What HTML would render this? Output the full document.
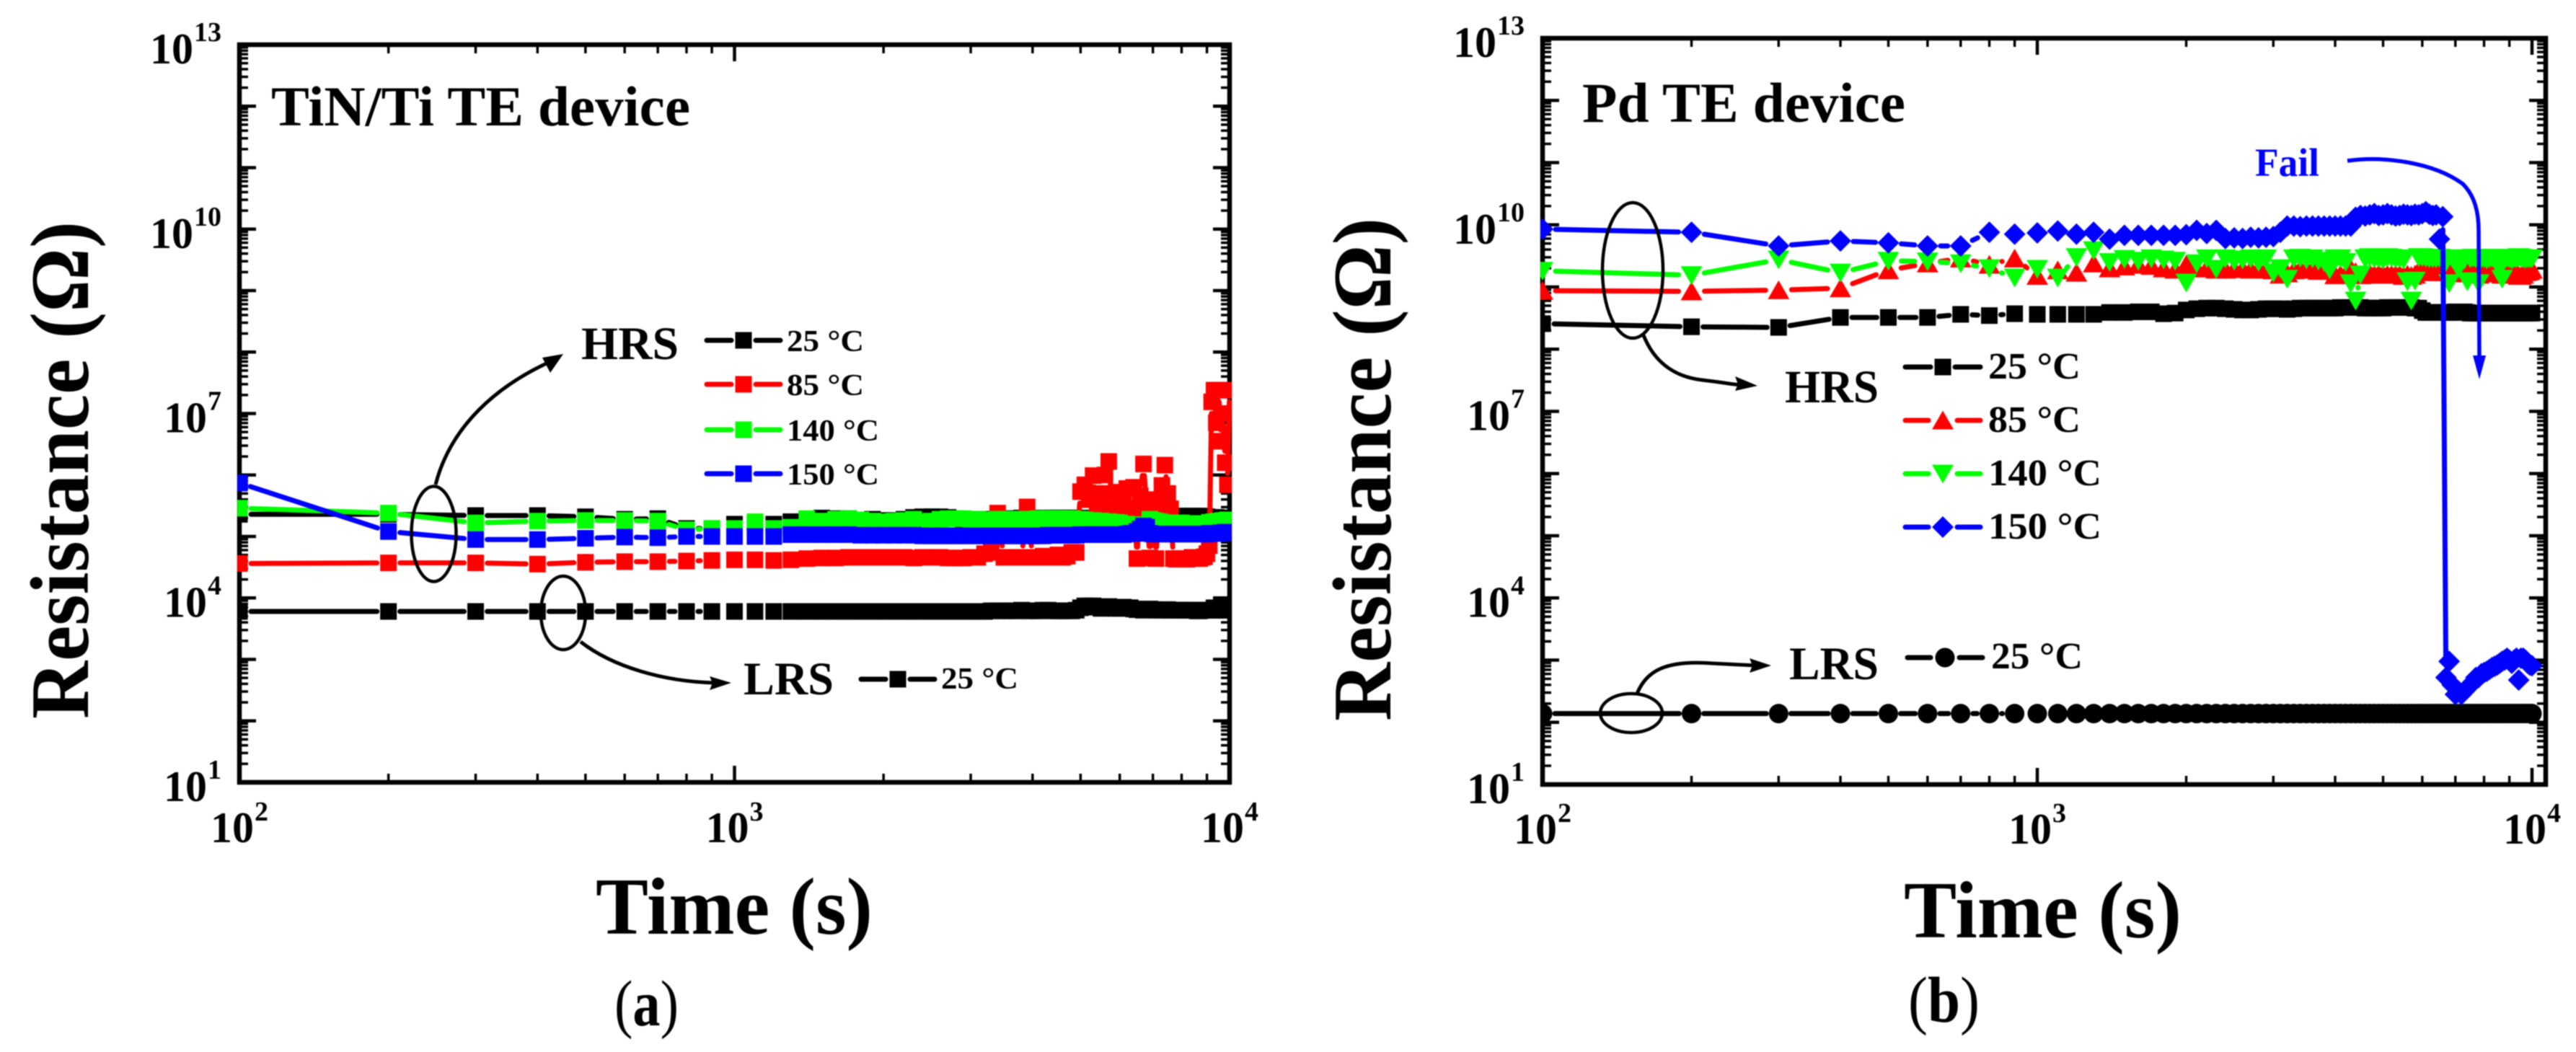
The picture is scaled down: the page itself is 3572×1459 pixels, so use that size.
<!DOCTYPE html>
<html lang="en">
<head>
<meta charset="utf-8">
<title>Resistance retention of TiN/Ti and Pd TE devices</title>
<style>
html,body{margin:0;padding:0;background:#fff;width:3572px;height:1459px;overflow:hidden}
svg{position:absolute;left:0;top:0;display:block;filter:blur(.9px)}
text{font-family:"Liberation Serif",serif;font-weight:700;fill:#000}
</style>
</head>
<body>
<svg id="figure" xmlns="http://www.w3.org/2000/svg" width="3572" height="1459" viewBox="0 0 3572 1459">
<defs>
<clipPath id="clip-a"><rect x="329" y="59" width="1379" height="1029"/></clipPath>
<clipPath id="clip-b"><rect x="2136" y="50" width="1397" height="1041"/></clipPath>
</defs>
<rect x="0" y="0" width="3572" height="1459" fill="#fff"/>

<g id="panel-a"></g>
<g id="panel-b"></g>

<!-- panel a annotations -->
<g>
<text x="376" y="174" font-size="78" textLength="581" lengthAdjust="spacingAndGlyphs">TiN/Ti TE device</text>
<text transform="translate(122,997) rotate(-90)" font-size="115" textLength="690" lengthAdjust="spacingAndGlyphs">Resistance (Ω)</text>
<text x="826" y="1295" font-size="112" textLength="384" lengthAdjust="spacingAndGlyphs">Time (s)</text>
<text x="852" y="1422" font-size="90" textLength="89" lengthAdjust="spacingAndGlyphs" style="font-weight:400">(<tspan style="font-weight:700">a</tspan>)</text>
<ellipse cx="601.5" cy="740.5" rx="31" ry="66" fill="none" stroke="#000" stroke-width="4.5"/>
<ellipse cx="781" cy="850" rx="31" ry="51" fill="none" stroke="#000" stroke-width="4.5"/>
<path d="M604,672 C625,590 690,535 762,502" fill="none" stroke="#000" stroke-width="5"/>
<polygon points="781,491 752,496 763,517" fill="#000"/>
<path d="M805,890 C850,925 920,945 990,947" fill="none" stroke="#000" stroke-width="5"/>
<polygon points="1014,947 984,938 988,947 984,957" fill="#000"/>
<text x="806" y="498" font-size="65" textLength="135" lengthAdjust="spacingAndGlyphs">HRS</text>
<text x="1031" y="963" font-size="65" textLength="125" lengthAdjust="spacingAndGlyphs">LRS</text>
</g>

<!-- panel b annotations -->
<g>
<text x="2194" y="169" font-size="78" textLength="448" lengthAdjust="spacingAndGlyphs">Pd TE device</text>
<text transform="translate(1928,1000) rotate(-90)" font-size="115" textLength="698" lengthAdjust="spacingAndGlyphs">Resistance (Ω)</text>
<text x="2640" y="1300" font-size="112" textLength="385" lengthAdjust="spacingAndGlyphs">Time (s)</text>
<text x="2646" y="1417" font-size="90" textLength="99" lengthAdjust="spacingAndGlyphs" style="font-weight:400">(<tspan style="font-weight:700">b</tspan>)</text>
<ellipse cx="2264" cy="375" rx="42" ry="94" fill="none" stroke="#000" stroke-width="4.5"/>
<ellipse cx="2262" cy="989" rx="43" ry="27" fill="none" stroke="#000" stroke-width="4.5"/>
<path d="M2279,465 C2295,505 2325,523 2360,527 S2400,533 2415,534" fill="none" stroke="#000" stroke-width="5"/>
<polygon points="2437,535 2406,522 2410,533 2406,542" fill="#000"/>
<path d="M2270,962 C2283,930 2310,915 2375,920 L2435,923" fill="none" stroke="#000" stroke-width="5"/>
<polygon points="2456,923 2426,913 2430,923 2426,933" fill="#000"/>
<text x="2475" y="558" font-size="65" textLength="130" lengthAdjust="spacingAndGlyphs">HRS</text>
<text x="2481" y="942" font-size="65" textLength="124" lengthAdjust="spacingAndGlyphs">LRS</text>
<text x="3127" y="244" font-size="55" textLength="89" lengthAdjust="spacingAndGlyphs" style="fill:#0000ff">Fail</text>
<path d="M3255,223 C3305,216 3374,225 3415,255 C3432,272 3437,295 3437,320 L3438,500" fill="none" stroke="#0000ff" stroke-width="5.5"/>
<polygon points="3438,526 3429,493 3447,493" fill="#0000ff"/>
</g>
</svg>

<script>
// Measured data: times in seconds, resistances as log10(R / ohm).
const times = [100,200,300,400,500,600,700,800,900,1000,
1100,1200,1300,1400,1500,1600,1700,1800,1900,2000,
2100,2200,2300,2400,2500,2600,2700,2800,2900,3000,
3100,3200,3300,3400,3500,3600,3700,3800,3900,4000,
4100,4200,4300,4400,4500,4600,4700,4800,4900,5000,
5100,5200,5300,5400,5500,5600,5700,5800,5900,6000,
6100,6200,6300,6400,6500,6600,6700,6800,6900,7000,
7100,7200,7300,7400,7500,7600,7700,7800,7900,8000,
8100,8200,8300,8400,8500,8600,8700,8800,8900,9000,
9100,9200,9300,9400,9500,9600,9700,9800,9900,10000];

const yTickDecades = [1,2,3,4,5,6,7,8,9,10,11,12,13];
const yLabelDecades = [1,4,7,10,13];
const xTickDecades = [2,3,4];
const minorMultipliers = [2,3,4,5,6,7,8,9];

const legendLabelsA = ['25 °C','85 °C','140 °C','150 °C'];
const legendLabelsB = ['25 °C','85 °C','140 °C','150 °C'];
const lrsLegendLabel = '25 °C';

const aLrs25 = [3.78,3.78,3.78,3.78,3.78,3.78,3.78,3.78,3.78,3.78,
3.78,3.78,3.78,3.78,3.78,3.78,3.78,3.78,3.78,3.78,
3.78,3.78,3.78,3.78,3.78,3.78,3.78,3.78,3.78,3.78,
3.78,3.78,3.79,3.79,3.79,3.79,3.79,3.80,3.79,3.79,
3.79,3.80,3.80,3.79,3.79,3.79,3.79,3.79,3.80,3.84,
3.87,3.87,3.87,3.85,3.83,3.84,3.86,3.84,3.83,3.83,
3.85,3.84,3.84,3.82,3.81,3.81,3.80,3.81,3.82,3.81,
3.81,3.80,3.80,3.81,3.81,3.80,3.80,3.80,3.80,3.80,
3.80,3.80,3.80,3.80,3.80,3.79,3.79,3.80,3.80,3.80,
3.80,3.80,3.84,3.82,3.80,3.80,3.81,3.80,3.80,3.80];

const aHrs25 = [5.36,5.36,5.34,5.34,5.32,5.28,5.29,5.13,5.13,5.20,
5.20,5.20,5.24,5.28,5.30,5.29,5.29,5.27,5.28,5.26,
5.26,5.28,5.31,5.32,5.32,5.32,5.31,5.29,5.28,5.28,
5.28,5.27,5.28,5.28,5.28,5.29,5.29,5.30,5.30,5.30,
5.29,5.29,5.30,5.30,5.30,5.30,5.30,5.30,5.30,5.29,
5.29,5.29,5.30,5.29,5.29,5.29,5.28,5.28,5.28,5.28,
5.28,5.28,5.28,5.28,5.28,5.28,5.28,5.28,5.28,5.28,
5.28,5.28,5.28,5.28,5.30,5.31,5.31,5.33,5.33,5.33,
5.33,5.33,5.33,5.33,5.33,5.33,5.33,5.33,5.33,5.32,
5.31,5.31,5.31,5.31,5.30,5.30,5.30,5.30,5.30,5.30];

const aHrs85 = [4.56,4.57,4.57,4.55,4.58,4.59,4.59,4.60,4.61,4.62,
4.62,4.61,4.62,4.64,4.65,4.65,4.66,4.66,4.66,4.66,
4.66,4.66,4.65,4.66,4.66,4.66,4.65,4.65,4.65,4.66,
4.66,4.72,4.74,5.38,4.66,4.66,4.66,4.66,5.48,4.66,
4.66,4.68,4.66,4.66,4.70,4.66,4.68,4.74,4.74,5.73,
5.84,5.60,5.99,5.45,5.70,6.00,6.22,5.45,5.72,5.50,
5.62,5.78,5.45,5.80,4.64,5.66,6.18,5.48,4.65,5.60,
4.64,5.52,5.83,6.16,5.70,5.45,4.64,4.63,4.64,4.64,
4.63,4.63,4.64,4.66,4.64,4.65,4.64,4.66,4.67,4.72,
4.85,7.19,7.38,6.85,7.38,6.55,7.00,6.20,5.84,7.38];

const aHrs140 = [5.46,5.38,5.22,5.25,5.26,5.26,5.25,5.11,5.13,5.13,
5.24,5.13,5.15,5.29,5.25,5.28,5.29,5.27,5.25,5.24,
5.25,5.26,5.28,5.24,5.25,5.28,5.29,5.29,5.29,5.28,
5.28,5.27,5.27,5.28,5.28,5.28,5.28,5.28,5.28,5.28,
5.29,5.29,5.29,5.29,5.29,5.29,5.29,5.29,5.28,5.28,
5.27,5.26,5.26,5.25,5.25,5.24,5.24,5.23,5.23,5.22,
5.20,5.20,5.18,5.19,5.19,5.18,5.17,5.17,5.28,5.26,
5.25,5.24,5.23,5.22,5.20,5.20,5.21,5.22,5.22,5.22,
5.21,5.21,5.21,5.21,5.21,5.21,5.21,5.21,5.21,5.21,
5.23,5.23,5.24,5.24,5.25,5.25,5.26,5.26,5.27,5.27];

const aHrs150 = [5.87,5.08,4.95,4.95,4.97,4.99,4.98,5.00,5.00,5.00,
5.00,5.00,5.03,5.03,5.03,5.03,5.03,5.02,5.02,5.02,
5.02,5.02,5.02,5.01,5.01,5.01,5.01,5.01,5.01,5.01,
5.01,5.01,5.01,5.01,5.01,5.01,5.01,5.01,5.01,5.01,
5.01,5.01,5.02,5.02,5.02,5.02,5.02,5.02,5.02,5.03,
5.03,5.03,5.03,5.03,5.03,5.03,5.03,5.03,5.03,5.03,
5.03,5.04,5.05,5.05,5.08,5.12,5.17,5.15,5.05,5.04,
5.04,5.04,5.04,5.04,5.04,5.04,5.04,5.04,5.04,5.04,
5.04,5.04,5.04,5.04,5.04,5.04,5.04,5.04,5.04,5.04,
5.05,5.05,5.05,5.05,5.05,5.06,5.06,5.07,5.07,5.07];

const bLrs25 = [2.14,2.14,2.14,2.14,2.14,2.14,2.14,2.14,2.14,2.14,
2.14,2.14,2.14,2.14,2.14,2.14,2.14,2.14,2.14,2.14,
2.14,2.14,2.14,2.14,2.14,2.14,2.14,2.14,2.14,2.14,
2.14,2.14,2.14,2.14,2.14,2.14,2.14,2.14,2.14,2.14,
2.14,2.14,2.14,2.14,2.14,2.14,2.14,2.14,2.14,2.14,
2.14,2.14,2.14,2.14,2.14,2.14,2.14,2.14,2.14,2.14,
2.14,2.14,2.14,2.14,2.14,2.14,2.14,2.14,2.14,2.14,
2.14,2.14,2.14,2.14,2.14,2.14,2.14,2.14,2.14,2.14,
2.14,2.14,2.14,2.14,2.14,2.14,2.14,2.14,2.14,2.14,
2.14,2.14,2.14,2.14,2.14,2.14,2.14,2.14,2.14,2.14];

const bHrs25 = [8.41,8.36,8.35,8.51,8.51,8.51,8.56,8.54,8.57,8.56,
8.56,8.56,8.56,8.59,8.59,8.60,8.60,8.57,8.58,8.63,
8.65,8.66,8.66,8.65,8.64,8.63,8.63,8.64,8.65,8.65,
8.65,8.64,8.65,8.66,8.66,8.66,8.66,8.66,8.66,8.66,
8.67,8.67,8.67,8.67,8.67,8.66,8.66,8.66,8.66,8.66,
8.67,8.67,8.67,8.67,8.67,8.67,8.67,8.66,8.66,8.62,
8.59,8.59,8.59,8.59,8.59,8.59,8.59,8.59,8.59,8.60,
8.60,8.60,8.60,8.59,8.58,8.58,8.58,8.58,8.58,8.58,
8.58,8.58,8.58,8.58,8.58,8.58,8.58,8.58,8.58,8.58,
8.58,8.58,8.58,8.58,8.58,8.58,8.58,8.58,8.58,8.58];

const bHrs85 = [8.94,8.93,8.95,8.98,9.27,9.38,9.46,9.36,9.46,9.18,
9.27,9.23,9.38,9.30,9.33,9.36,9.34,9.30,9.28,9.36,
9.30,9.30,9.28,9.28,9.29,9.29,9.28,9.29,9.28,9.27,
9.20,9.22,9.27,9.29,9.28,9.28,9.26,9.28,9.27,9.19,
9.20,9.20,9.30,9.24,9.19,9.20,9.22,9.20,9.21,9.20,
9.20,9.20,9.20,9.20,9.18,9.20,9.18,9.20,9.26,9.25,
9.25,9.25,9.24,9.24,9.24,9.24,9.25,9.24,9.22,9.24,
9.22,9.22,9.24,9.25,9.24,9.24,9.22,9.20,9.22,9.24,
9.25,9.24,9.24,9.24,9.22,9.22,9.20,9.20,9.20,9.22,
9.23,9.24,9.22,9.18,9.18,9.20,9.24,9.25,9.26,9.28];

const bHrs140 = [9.26,9.19,9.44,9.23,9.42,9.41,9.38,9.30,9.15,9.29,
9.15,9.48,9.59,9.40,9.45,9.42,9.46,9.44,9.42,9.07,
9.38,9.46,9.29,9.46,9.42,9.44,9.46,9.40,9.46,9.23,
9.30,9.13,9.46,9.47,9.44,9.46,9.42,9.40,9.28,9.46,
9.46,9.40,9.06,8.78,9.20,9.46,9.48,9.46,9.46,9.44,
9.48,9.47,9.46,9.46,9.44,9.09,8.78,9.10,9.48,9.48,
9.47,9.46,9.46,9.46,9.47,9.46,9.40,9.06,9.46,9.44,
9.30,9.46,9.44,9.09,9.46,9.47,9.46,9.06,9.46,9.46,
9.44,9.46,9.47,9.46,9.46,9.30,9.13,9.46,9.47,9.46,
9.44,9.46,9.46,9.48,9.47,9.46,9.45,9.46,9.46,9.46];

const bHrs150 = [9.93,9.88,9.66,9.74,9.71,9.66,9.66,9.88,9.85,9.87,
9.90,9.85,9.88,9.77,9.83,9.83,9.83,9.83,9.83,9.84,
9.91,9.86,9.91,9.78,9.79,9.78,9.80,9.79,9.80,9.81,
9.88,9.98,9.98,9.97,9.98,9.98,9.98,9.98,9.98,9.98,
9.98,9.98,9.98,10.12,10.15,10.14,10.16,10.18,10.15,10.16,
10.18,10.16,10.14,10.15,10.17,10.16,10.15,10.17,10.16,10.18,
10.21,10.17,10.15,10.16,9.77,10.13,
2.72,2.98,2.60,2.45,
2.50,2.45,2.50,2.55,2.60,2.65,2.72,2.72,2.78,2.80,
2.82,2.85,2.88,2.90,2.92,2.95,2.98,3.00,3.03,3.00,
2.95,3.00,3.03,2.68,3.03,3.03,3.00,2.95,2.92,2.91];

const SVGNS = 'http://www.w3.org/2000/svg';
const panelA = {x0:332, xRight:1705, xDecade:686.5, yBottom:1085, yTop:62, yDecade:85.25, clip:'clip-a'};
const panelB = {x0:2139, xRight:3530, xDecade:686, yBottom:1088, yTop:53, yDecade:86.25, clip:'clip-b'};

function xScale(panel, t){ return panel.x0 + (Math.log10(t) - 2) * panel.xDecade; }
function yScale(panel, logR){ return panel.yBottom - (logR - 1) * panel.yDecade; }

function create(tag, parent, attrs){
  const el = document.createElementNS(SVGNS, tag);
  for (const k in attrs) el.setAttribute(k, attrs[k]);
  parent.appendChild(el);
  return el;
}

function drawMarker(parent, shape, x, y, color, name){
  let el;
  if (shape === 'square') {
    el = create('rect', parent, {x:x-11.5, y:y-11.5, width:23, height:23, fill:color});
  } else if (shape === 'circle') {
    el = create('circle', parent, {cx:x, cy:y, r:13.5, fill:color});
  } else if (shape === 'up') {
    el = create('polygon', parent, {points:(x-15)+','+(y+12.5)+' '+(x+15)+','+(y+12.5)+' '+x+','+(y-13.5), fill:color});
  } else if (shape === 'down') {
    el = create('polygon', parent, {points:(x-15)+','+(y-12.5)+' '+(x+15)+','+(y-12.5)+' '+x+','+(y+13.5), fill:color});
  } else {
    el = create('polygon', parent, {points:(x-15)+','+y+' '+x+','+(y-15)+' '+(x+15)+','+y+' '+x+','+(y+15), fill:color});
  }
  
  
  return el;
}

function drawSeries(panel, root, name, values, color, shape, gap, width){
  const g = create('g', root, {'clip-path':'url(#' + panel.clip + ')'});
  
  
  const pts = values.map(function(v, i){ return [xScale(panel, times[i]), yScale(panel, v)]; });
  for (let i = 0; i + 1 < pts.length; i++) {
    const dx = pts[i+1][0] - pts[i][0], dy = pts[i+1][1] - pts[i][1];
    const d = Math.hypot(dx, dy);
    if (d <= 2 * gap) continue;
    const ux = dx / d, uy = dy / d;
    const seg = create('line', g, {
      x1:pts[i][0] + ux * gap, y1:pts[i][1] + uy * gap,
      x2:pts[i+1][0] - ux * gap, y2:pts[i+1][1] - uy * gap,
      stroke:color, 'stroke-width':width, 'stroke-linecap':'round'
    });
    
    
  }
  pts.forEach(function(p){ drawMarker(g, shape, p[0], p[1], color, name + '-point'); });
}

function drawAxes(panel, root, prefix){
  const g = create('g', root, {});
  
  
  const frame = create('rect', g, {x:panel.x0, y:panel.yTop, width:panel.xRight-panel.x0, height:panel.yBottom-panel.yTop, fill:'none', stroke:'#000', 'stroke-width':6.5});
  
  

  function tick(x1, y1, x2, y2, w, name){
    const t = create('line', g, {x1:x1, y1:y1, x2:x2, y2:y2, stroke:'#000', 'stroke-width':w});
    
    
  }
  yTickDecades.forEach(function(d){
    const y = yScale(panel, d);
    tick(panel.x0, y, panel.x0 + 23, y, 4.5, prefix + '-y-major-tick');
    tick(panel.xRight, y, panel.xRight - 23, y, 4.5, prefix + '-y-major-tick-right');
    if (d < 13) minorMultipliers.forEach(function(m){
      const ym = yScale(panel, d + Math.log10(m));
      tick(panel.x0, ym, panel.x0 + 12, ym, 3.5, prefix + '-y-minor-tick');
      tick(panel.xRight, ym, panel.xRight - 12, ym, 3.5, prefix + '-y-minor-tick-right');
    });
  });
  xTickDecades.forEach(function(d){
    const x = xScale(panel, Math.pow(10, d));
    tick(x, panel.yBottom, x, panel.yBottom - 23, 4.5, prefix + '-x-major-tick');
    tick(x, panel.yTop, x, panel.yTop + 23, 4.5, prefix + '-x-major-tick-top');
    if (d < 4) minorMultipliers.forEach(function(m){
      const xm = xScale(panel, m * Math.pow(10, d));
      tick(xm, panel.yBottom, xm, panel.yBottom - 12, 3.5, prefix + '-x-minor-tick');
      tick(xm, panel.yTop, xm, panel.yTop + 12, 3.5, prefix + '-x-minor-tick-top');
    });
  });

  yLabelDecades.forEach(function(d){
    const t = create('text', g, {x:panel.x0 - 25, y:yScale(panel, d) + 26, 'font-size':60, 'text-anchor':'end'});
    
    
    const b = create('tspan', t, {});
    b.textContent = '10';
    const s = create('tspan', t, {dy:-31, 'font-size':38, dx:1});
    s.textContent = String(d);
  });
  xTickDecades.forEach(function(d){
    const t = create('text', g, {x:xScale(panel, Math.pow(10, d)), y:panel.labelY, 'font-size':60, 'text-anchor':'middle'});
    
    
    const b = create('tspan', t, {});
    b.textContent = '10';
    const s = create('tspan', t, {dy:-30, 'font-size':38, dx:1});
    s.textContent = String(d);
  });
}

function drawLegendRow(root, name, x1, x2, y, color, shape, label, tx, ty, fs, tw){
  const g = create('g', root, {});
  
  
  const mid = (x1 + x2) / 2;
  const half = shape === 'square' ? 17 : 20;
  [[x1, mid - half], [mid + half, x2]].forEach(function(s){
    const l = create('line', g, {x1:s[0], y1:y, x2:s[1], y2:y, stroke:color, 'stroke-width':7, 'stroke-linecap':'round'});
    
    
  });
  drawMarker(g, shape, mid, y, color, name + '-marker');
  const t = create('text', g, {x:tx, y:ty, 'font-size':fs, textLength:tw, lengthAdjust:'spacingAndGlyphs'});
  
  
  t.textContent = label;
}

panelA.labelY = 1168;
panelB.labelY = 1170;

const rootA = document.getElementById('panel-a');
const rootB = document.getElementById('panel-b');

drawAxes(panelA, rootA, 'panel-a');
drawSeries(panelA, rootA, 'a-lrs-25c', aLrs25, '#000000', 'square', 16, 7);
drawSeries(panelA, rootA, 'a-hrs-25c', aHrs25, '#000000', 'square', 16, 7);
drawSeries(panelA, rootA, 'a-hrs-85c', aHrs85, '#ff0000', 'square', 16, 7);
drawSeries(panelA, rootA, 'a-hrs-140c', aHrs140, '#00ff00', 'square', 16, 7);
drawSeries(panelA, rootA, 'a-hrs-150c', aHrs150, '#0000ff', 'square', 16, 7);

drawAxes(panelB, rootB, 'panel-b');
drawSeries(panelB, rootB, 'b-lrs-25c', bLrs25, '#000000', 'circle', 17, 7);
drawSeries(panelB, rootB, 'b-hrs-25c', bHrs25, '#000000', 'square', 16, 7);
drawSeries(panelB, rootB, 'b-hrs-85c', bHrs85, '#ff0000', 'up', 18, 7);
drawSeries(panelB, rootB, 'b-hrs-140c', bHrs140, '#00ff00', 'down', 18, 7);
drawSeries(panelB, rootB, 'b-hrs-150c', bHrs150, '#0000ff', 'diamond', 18, 7);

const colorsLegend = ['#000000','#ff0000','#00ff00','#0000ff'];
const rowsA = [472,533,596,657];
const widthsA = [107,107,128,128];
legendLabelsA.forEach(function(label, i){
  drawLegendRow(rootA, 'legend-a-entry-' + (i+1), 980, 1082, rowsA[i], colorsLegend[i], 'square', label, 1091, rowsA[i] + 15, 42, widthsA[i]);
});
drawLegendRow(rootA, 'legend-a-lrs-entry', 1194, 1296, 942, '#000000', 'square', lrsLegendLabel, 1305, 955, 42, 107);

const rowsB = [509,583,657,731];
const widthsB = [128,128,157,157];
const shapesB = ['square','up','down','diamond'];
legendLabelsB.forEach(function(label, i){
  drawLegendRow(rootB, 'legend-b-entry-' + (i+1), 2642, 2746, rowsB[i], colorsLegend[i], shapesB[i], label, 2757, rowsB[i] + 16, 52, widthsB[i]);
});
drawLegendRow(rootB, 'legend-b-lrs-entry', 2645, 2749, 912, '#000000', 'circle', lrsLegendLabel, 2761, 927, 52, 127);
</script>
</body>
</html>
